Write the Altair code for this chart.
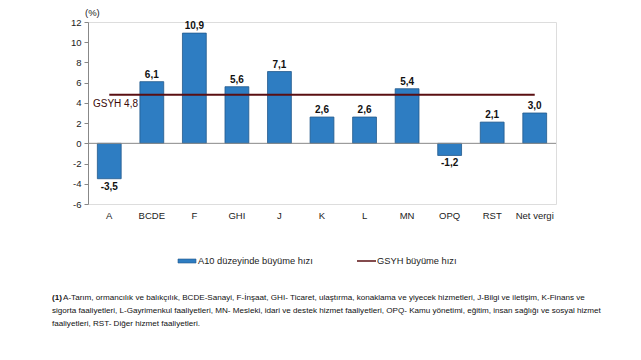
import altair as alt
import pandas as pd

categories = ["A", "BCDE", "F", "GHI", "J", "K", "L", "MN", "OPQ", "RST", "Net vergi"]
values = [-3.5, 6.1, 10.9, 5.6, 7.1, 2.6, 2.6, 5.4, -1.2, 2.1, 3.0]
gsyh = 4.8
y_ticks = [-6, -4, -2, 0, 2, 4, 6, 8, 10, 12]

footnote_lines = [
    "A-Tarım, ormancılık ve balıkçılık, BCDE-Sanayi, F-İnşaat, GHI- Ticaret, ulaştırma, konaklama ve yiyecek hizmetleri, J-Bilgi ve iletişim, K-Finans ve",
    "sigorta faaliyetleri, L-Gayrimenkul faaliyetleri, MN- Mesleki, idari ve destek hizmet faaliyetleri, OPQ- Kamu yönetimi, eğitim, insan sağlığı ve sosyal hizmet",
    "faaliyetleri, RST- Diğer hizmet faaliyetleri.",
]

FONT = "Liberation Sans"
BAR = "#2e7dc2"
BAR_STROKE = "#22598c"
LINE = "#5a0f12"

df = pd.DataFrame({
    "cat": categories,
    "val": values,
    "label": [f"{v:.1f}".replace(".", ",") for v in values],
    "gsyh": [gsyh] * len(categories),
})

W, H = 468, 182

yaxis = alt.Axis(title=None, values=y_ticks, tickCount=len(y_ticks), grid=False, domainColor="#888",
                 tickColor="#888", tickSize=4, labelFont=FONT, labelFontSize=9.5,
                 labelColor="#222", labelPadding=3, labelOverlap=False,
                 labelExpr="replace(datum.label, '\u2212', '-')")
yscale = alt.Scale(domain=[-6, 12], nice=False, zero=False)

xs = alt.X("cat:N", sort=categories,
           scale=alt.Scale(paddingInner=0.44, paddingOuter=0.22),
           axis=alt.Axis(title=None, domain=False, ticks=False, labelAngle=0,
                         labelFont=FONT, labelFontSize=9.5, labelColor="#222",
                         labelPadding=6))
ys = alt.Y("val:Q", scale=yscale, axis=yaxis)

base = alt.Chart(df)

bars = base.mark_bar(color=BAR, stroke=BAR_STROKE, strokeWidth=0.8).encode(x=xs, y=ys, y2=alt.datum(0))

zero = base.transform_filter("datum.cat == 'A'").mark_rule(color="#888", strokeWidth=1).encode(
    y=alt.datum(0), x=alt.value(0), x2=alt.value(W))

line = base.mark_line(color=LINE, strokeWidth=2).encode(x=xs, y=alt.Y("gsyh:Q", scale=yscale, axis=yaxis))

lab_pos = base.transform_filter("datum.val >= 0").mark_text(
    font=FONT, fontSize=10, fontWeight="bold", baseline="bottom", dy=-2, color="#111"
).encode(x=xs, y=ys, text="label:N")
lab_neg = base.transform_filter("datum.val < 0").mark_text(
    font=FONT, fontSize=10, fontWeight="bold", baseline="top", dy=3, color="#111"
).encode(x=xs, y=ys, text="label:N")

gsyh_lab = base.transform_filter("datum.cat == 'A'").transform_calculate(
    t="'GSYH ' + replace(format(datum.gsyh, '.1f'), '.', ',')"
).mark_text(
    font=FONT, fontSize=10, baseline="top", align="left", dy=4, color="#3a0a0a"
).encode(y=alt.Y("gsyh:Q", scale=yscale, axis=yaxis), x=alt.value(5), text="t:N")

pct = alt.Chart(pd.DataFrame({"t": ["(%)"]})).mark_text(
    font=FONT, fontSize=9.5, align="left", baseline="middle", color="#222"
).encode(x=alt.value(-3), y=alt.value(-9), text="t:N")

leg_bar = alt.Chart(pd.DataFrame({"a": [0]})).mark_rect(color=BAR, stroke=BAR_STROKE, strokeWidth=0.6).encode(
    x=alt.value(90), x2=alt.value(108), y=alt.value(237), y2=alt.value(241))
leg_line = alt.Chart(pd.DataFrame({"a": [0]})).mark_rule(color=LINE, strokeWidth=1.5).encode(
    x=alt.value(269), x2=alt.value(288), y=alt.value(239))
leg_txt = alt.Chart(pd.DataFrame({
    "t": ["A10 düzeyinde büyüme hızı", "GSYH büyüme hızı"],
    "x": [110, 289],
})).mark_text(font=FONT, fontSize=9.3, align="left", baseline="middle", color="#222").encode(
    x=alt.X("x:Q", scale=None), y=alt.value(239), text="t:N")

fn_df = pd.DataFrame({
    "t": footnote_lines,
    "x": [-25, -36, -36],
    "y": [276, 289, 302],
})
foot = alt.Chart(fn_df).mark_text(font=FONT, fontSize=8.1, align="left", baseline="middle", color="#111").encode(
    x=alt.X("x:Q", scale=None), y=alt.Y("y:Q", scale=None), text="t:N")
foot1 = alt.Chart(pd.DataFrame({"t": ["(1)"]})).mark_text(
    font=FONT, fontSize=8.1, fontWeight="bold", align="left", baseline="middle", color="#111"
).encode(x=alt.value(-36), y=alt.value(276), text="t:N")

chart = alt.layer(
    bars, zero, line, lab_pos, lab_neg, gsyh_lab, pct, leg_bar, leg_line, leg_txt, foot, foot1
).properties(
    width=W, height=H,
    autosize=alt.AutoSizeParams(type="none"),
    padding={"left": 80, "top": 14, "right": 77, "bottom": 148},
).configure_view(stroke=None).configure(background="white")

chart.save("out.html", embed_options={"renderer": "svg", "actions": False})
